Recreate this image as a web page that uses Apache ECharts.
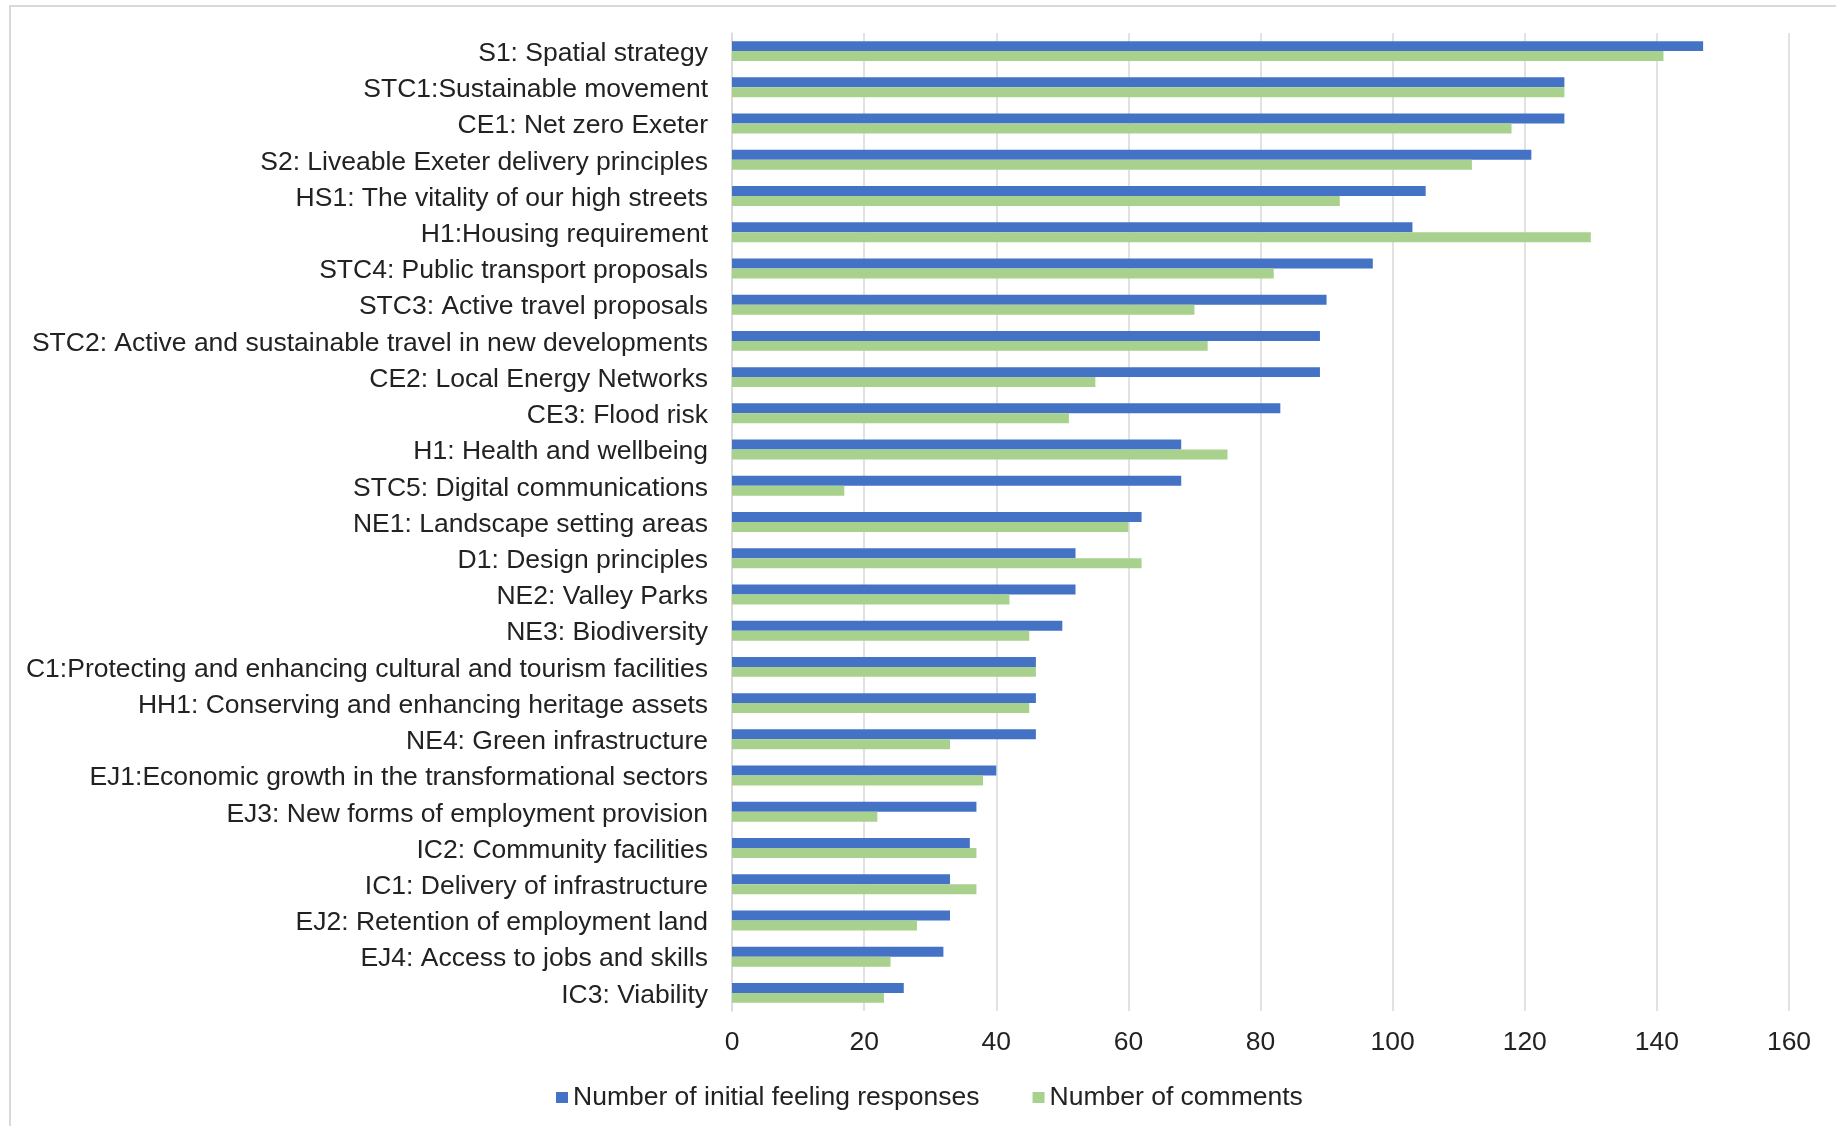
<!DOCTYPE html>
<html>
<head>
<meta charset="utf-8">
<title>Local Plan consultation: responses and comments by policy</title>
<script src="https://cdn.jsdelivr.net/npm/echarts@6/dist/echarts.min.js"></script>
<style>
  html, body { margin: 0; padding: 0; background: #ffffff; }
  #chart { width: 1836px; height: 1126px; }
</style>
</head>
<body>
<div id="chart"></div>
<script>
// Policy names, listed top to bottom
const policies = [
  'S1: Spatial strategy',
  'STC1:Sustainable movement',
  'CE1: Net zero Exeter',
  'S2: Liveable Exeter delivery principles',
  'HS1: The vitality of our high streets',
  'H1:Housing requirement',
  'STC4: Public transport proposals',
  'STC3: Active travel proposals',
  'STC2: Active and sustainable travel in new developments',
  'CE2: Local Energy Networks',
  'CE3: Flood risk',
  'H1: Health and wellbeing',
  'STC5: Digital communications',
  'NE1: Landscape setting areas',
  'D1: Design principles',
  'NE2: Valley Parks',
  'NE3: Biodiversity',
  'C1:Protecting and enhancing cultural and tourism facilities',
  'HH1: Conserving and enhancing heritage assets',
  'NE4: Green infrastructure',
  'EJ1:Economic growth in the transformational sectors',
  'EJ3: New forms of employment provision',
  'IC2: Community facilities',
  'IC1: Delivery of infrastructure',
  'EJ2: Retention of employment land',
  'EJ4: Access to jobs and skills',
  'IC3: Viability'
];

// Number of initial feeling responses per policy
const initialFeelingResponses = [
  147, 126, 126, 121, 105, 103, 97, 90, 89, 89, 83, 68, 68, 62,
  52, 52, 50, 46, 46, 46, 40, 37, 36, 33, 33, 32, 26
];

// Number of comments per policy
const commentCounts = [
  141, 126, 118, 112, 92, 130, 82, 70, 72, 55, 51, 75, 17, 60,
  62, 42, 45, 46, 45, 33, 38, 22, 37, 37, 28, 24, 23
];

// Value axis ticks
const valueTicks = { min: 0, max: 160, interval: 20 };

const seriesNames = ['Number of initial feeling responses', 'Number of comments'];

const FONT = "'Liberation Sans', Arial, Helvetica, sans-serif";
const TEXT = '#222222';
const GRID = '#d9d9d9';
const SIZE = 26.5;

const chart = echarts.init(document.getElementById('chart'), null, { renderer: 'canvas' });

chart.setOption({
  animation: false,
  backgroundColor: '#ffffff',
  textStyle: { fontFamily: FONT },
  graphic: [{
    type: 'rect',
    shape: { x: 10, y: 6, width: 1900, height: 1200 },
    style: { fill: 'none', stroke: GRID, lineWidth: 2 },
    silent: true,
    z: -1
  }],
  grid: { left: 732, right: 47, top: 33, bottom: 115, containLabel: false },
  legend: {
    data: seriesNames,
    left: 551,
    top: 1079,
    itemWidth: 12,
    itemHeight: 11,
    itemGap: 53,
    icon: 'rect',
    textStyle: { fontFamily: FONT, fontSize: SIZE, color: TEXT }
  },
  xAxis: {
    type: 'value',
    min: valueTicks.min,
    max: valueTicks.max,
    interval: valueTicks.interval,
    axisLine: { show: false },
    axisTick: { show: false },
    axisLabel: { fontFamily: FONT, fontSize: SIZE, color: TEXT, margin: 18 },
    splitLine: { show: true, lineStyle: { color: GRID, width: 1.5 } }
  },
  yAxis: {
    type: 'category',
    data: policies,
    inverse: true,
    axisLine: { show: true, lineStyle: { color: GRID, width: 1.5 } },
    axisTick: { show: false },
    axisLabel: {
      fontFamily: FONT, fontSize: SIZE, color: TEXT, margin: 24,
      // a short line box hung from the tick sets the label slightly below the band centre
      verticalAlign: 'top',
      lineHeight: 5
    },
    splitLine: { show: false }
  },
  series: [
    {
      name: seriesNames[0],
      type: 'bar',
      data: initialFeelingResponses,
      barGap: '0%',
      barCategoryGap: '45%',
      itemStyle: { color: '#4472c4' }
    },
    {
      name: seriesNames[1],
      type: 'bar',
      data: commentCounts,
      barGap: '0%',
      barCategoryGap: '45%',
      itemStyle: { color: '#a9d18e' }
    }
  ]
});
</script>
</body>
</html>
